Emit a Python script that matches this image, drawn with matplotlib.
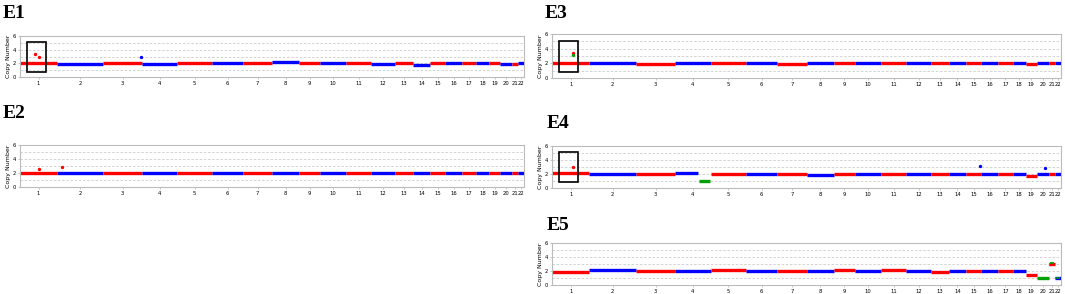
import numpy as np
import matplotlib.pyplot as plt
from matplotlib.patches import Rectangle

# chromosome widths along the genome axis (relative units)
chroms = [str(i) for i in range(1, 23)]
chrom_width = [37, 46, 39, 35, 35, 31, 29, 27, 21, 26, 25, 24, 18, 17, 15, 17, 14, 13, 11, 12, 6, 6]

# copy number level of each chromosome, one list per sample
cn_E1 = [2.0, 1.95, 2.05, 1.95, 2.0, 2.0, 2.1, 2.2, 2.0, 2.1, 2.05, 1.95, 2.05, 1.8, 2.0, 2.0, 2.0, 2.0, 2.0, 1.95, 1.95, 2.0]
cn_E2 = [2.05, 2.0, 2.0, 2.05, 2.0, 2.0, 2.0, 2.0, 2.0, 2.0, 2.0, 2.0, 2.0, 2.0, 2.0, 2.0, 2.0, 2.0, 2.0, 2.0, 2.0, 2.0]
cn_E3 = [2.05, 2.0, 1.95, 2.0, 2.0, 2.0, 1.95, 2.0, 2.0, 2.0, 2.0, 2.0, 2.0, 2.0, 2.0, 2.0, 2.0, 2.05, 1.95, 2.0, 2.0, 2.05]
cn_E4 = [2.1, 2.05, 2.05, 2.15, 2.05, 2.05, 2.05, 1.85, 2.0, 2.0, 2.05, 1.95, 2.05, 2.0, 2.05, 1.95, 2.0, 2.0, 1.7, 2.0, 2.0, 2.0]
cn_E5 = [1.9, 2.1, 1.95, 2.0, 2.1, 2.0, 2.0, 2.0, 2.1, 2.0, 2.1, 2.05, 1.85, 1.95, 1.95, 2.0, 2.0, 2.0, 1.5, 1.0, 3.0, 1.0]

# called segments (chromosome, start fraction, end fraction, copy number)
calls_E4 = [(4, 0.68, 0.98, 1.0)]
calls_E5 = [(20, 0.0, 1.0, 1.0), (21, 0.2, 0.8, 3.1), (22, 0.0, 1.0, 1.0)]

# single probes away from the band (chromosome, fraction, copy number, colour)
out_E1 = [(1, 0.4, 3.3, 'red'), (1, 0.5, 3.0, 'red'), (3, 0.98, 3.0, 'blue')]
out_E2 = [(1, 0.5, 2.6, 'red'), (2, 0.1, 2.9, 'red')]
out_E3 = [(1, 0.55, 3.45, 'red'), (1, 0.55, 3.1, 'green')]
out_E4 = [(1, 0.55, 3.0, 'red'), (15, 0.9, 3.2, 'blue'), (20, 0.7, 2.9, 'blue')]
out_E5 = []

samples = ['E1', 'E2', 'E3', 'E4', 'E5']
levels = [cn_E1, cn_E2, cn_E3, cn_E4, cn_E5]
calls = [[], [], [], calls_E4, calls_E5]
outliers = [out_E1, out_E2, out_E3, out_E4, out_E5]
has_box = [True, False, True, True, False]

W, H = 1065, 294
# pixel boxes: left, top, right, bottom
ax_px = [(20, 36, 524, 77), (20, 145, 524, 187), (552, 34, 1061, 78),
         (552, 146, 1061, 188), (552, 243, 1061, 285)]
title_px = [(3, 18), (3, 118), (545, 18), (547, 128), (547, 230)]

red, blue, green = '#ff0000', '#0000ff', '#00a000'
LW = 2.4

starts = np.concatenate([[0], np.cumsum(chrom_width)[:-1]])
ends = np.cumsum(chrom_width)
centers = (starts + ends) / 2

fig = plt.figure(figsize=(W / 100, H / 100), dpi=100)
plt.rcParams['font.family'] = 'DejaVu Sans'

for k, name in enumerate(samples):
    l, t, r, b = ax_px[k]
    ax = fig.add_axes([l / W, 1 - b / H, (r - l) / W, (b - t) / H])
    ax.set_xlim(0, ends[-1])
    ax.set_ylim(0, 6)
    for g in [1, 2, 3, 4, 5]:
        ax.axhline(g, color='#cccccc', lw=0.6, ls=(0, (3, 2)), zorder=0)

    call_chroms = {c[0]: c for c in calls[k]}
    for i in range(22):
        col = red if i % 2 == 0 else blue
        x0, x1 = starts[i], ends[i]
        c = call_chroms.get(i + 1)
        if c is not None and c[1] > 0.0:
            # normal part before the call
            ax.plot([x0, x0 + (x1 - x0) * (c[1] - 0.03)], [levels[k][i]] * 2,
                    color=col, lw=LW, solid_capstyle='butt', zorder=2)
        elif c is None:
            ax.plot([x0, x1], [levels[k][i]] * 2, color=col, lw=LW,
                    solid_capstyle='butt', zorder=2)

    for chrom, f0, f1, val in calls[k]:
        i = chrom - 1
        x0 = starts[i] + chrom_width[i] * f0
        x1 = starts[i] + chrom_width[i] * f1
        if val > 2:
            ax.plot([starts[i], ends[i]], [val - 0.1] * 2, color=red, lw=LW,
                    solid_capstyle='butt', zorder=2)
            ax.plot([x0, x1], [val + 0.05] * 2, color=green, lw=1.3,
                    solid_capstyle='butt', zorder=3)
        else:
            if chrom == 22:
                ax.plot([starts[i], ends[i]], [val] * 2, color=blue, lw=LW,
                        solid_capstyle='butt', zorder=2)
                ax.plot([x0, x1 * 0.999], [val] * 2, color=green, lw=1.1,
                        solid_capstyle='butt', zorder=3)
            else:
                ax.plot([x0, x1], [val] * 2, color=green, lw=LW,
                        solid_capstyle='butt', zorder=3)

    for chrom, f, val, col in outliers[k]:
        i = chrom - 1
        ax.scatter(starts[i] + chrom_width[i] * f, val, s=2,
                   color={'red': red, 'blue': blue, 'green': green}[col], zorder=4)

    if has_box[k]:
        ax.add_patch(Rectangle((7, 0.8), 19, 4.3, fill=False, ec='black', lw=1.2, zorder=5))

    ax.set_xticks(centers)
    ax.set_xticklabels(chroms, fontsize=3.8)
    ax.set_yticks([0, 2, 4, 6])
    ax.set_yticklabels(['0', '2', '4', '6'], fontsize=3.8)
    ax.tick_params(length=1.5, width=0.4, pad=1.5, color='#999999')
    for s in ax.spines.values():
        s.set_color('#bbbbbb')
        s.set_linewidth(0.8)
    ax.set_ylabel('Copy Number', fontsize=4.5, labelpad=1)

    tx, ty = title_px[k]
    fig.text(tx / W, 1 - ty / H, name, fontsize=14, fontweight='bold',
             family='Liberation Serif', ha='left', va='baseline')

fig.savefig('out.png', dpi=100)
